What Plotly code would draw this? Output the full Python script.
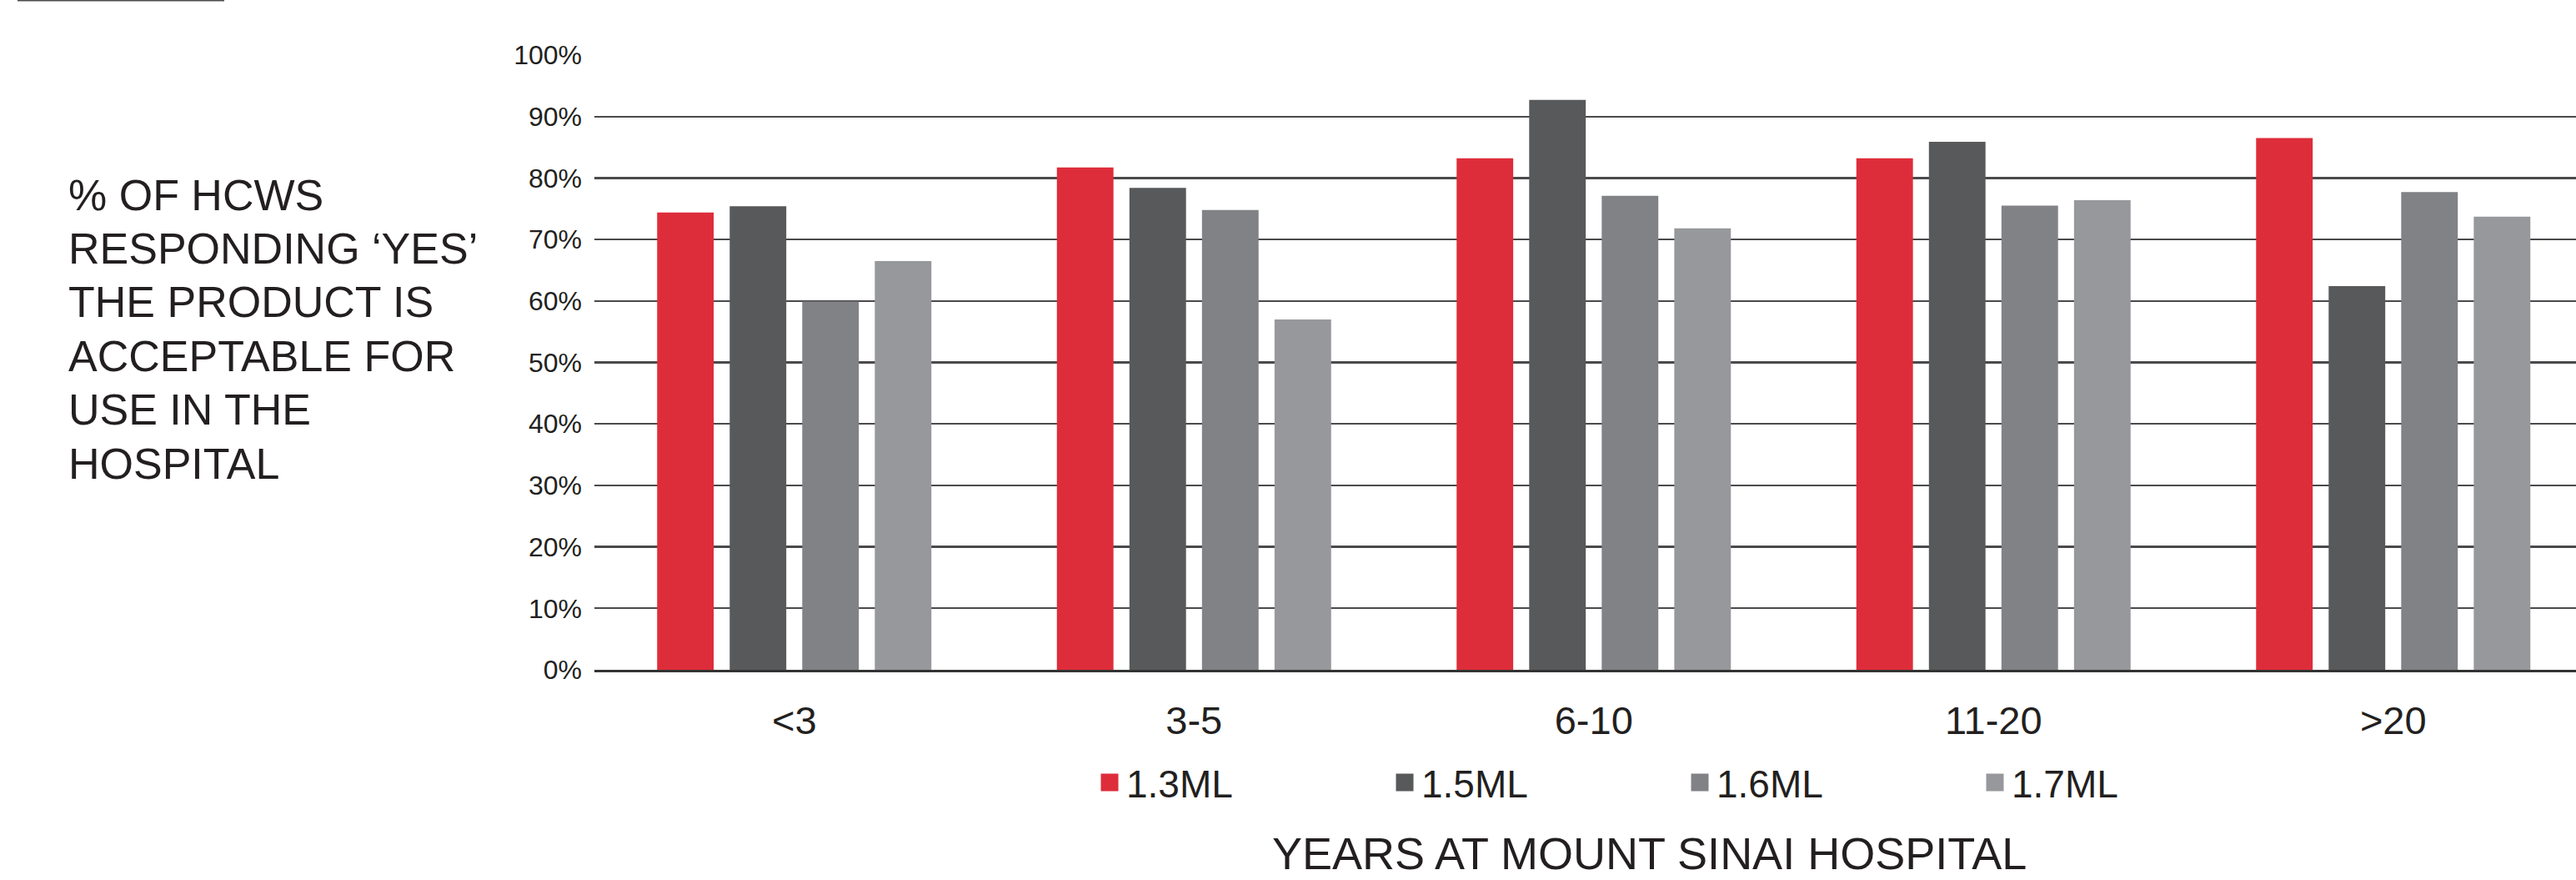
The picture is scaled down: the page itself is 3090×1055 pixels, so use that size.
import plotly.graph_objects as go

categories = ["<3", "3-5", "6-10", "11-20", ">20"]
series_names = ["1.3ML", "1.5ML", "1.6ML", "1.7ML"]
v_13ml = [0.744, 0.817, 0.832, 0.832, 0.865]
v_15ml = [0.754, 0.784, 0.927, 0.859, 0.624]
v_16ml = [0.599, 0.748, 0.771, 0.755, 0.777]
v_17ml = [0.665, 0.570, 0.718, 0.764, 0.737]
series_values = [v_13ml, v_15ml, v_16ml, v_17ml]
colors = ["#DE2D3A", "#58595B", "#818286", "#97989B"]
y_tick_vals = [0, 0.1, 0.2, 0.3, 0.4, 0.5, 0.6, 0.7, 0.8, 0.9, 1.0]
y_title_lines = ["% OF HCWS", "RESPONDING ‘YES’", "THE PRODUCT IS",
                 "ACCEPTABLE FOR", "USE IN THE", "HOSPITAL"]
x_title = "YEARS AT MOUNT SINAI HOSPITAL"

FONT = "Liberation Sans, Arial, sans-serif"
TXT = "#231F20"

W, H = 3090, 1055
L, T, B = 713, 66, 252
PH = H - T - B


def px(x):
    return (x - L) / (W - L)


def py(y):
    return (H - B - y) / PH


fig = go.Figure()
for name, vals, col in zip(series_names, series_values, colors):
    fig.add_trace(go.Bar(
        x=categories, y=vals, name=name,
        marker=dict(color=col, line=dict(width=0)),
        hoverinfo="skip", showlegend=False, legendgroup=name,
    ))
# legend entries (larger square swatches than the default bar swatch)
for name, col in zip(series_names, colors):
    fig.add_trace(go.Scatter(
        x=[None], y=[None], name=name, mode="markers",
        marker=dict(symbol="square", size=16, color=col,
                    line=dict(color=col, width=5)),
        hoverinfo="skip", showlegend=True, legendgroup=name,
    ))

unit = 479.5
fig.update_layout(
    width=W, height=H,
    autosize=False,
    margin=dict(l=L, r=0, t=T, b=B, pad=0),
    paper_bgcolor="white", plot_bgcolor="white",
    barmode="group", bargap=0.274, bargroupgap=0.22,
    font=dict(family=FONT, color=TXT),
    xaxis=dict(
        type="category",
        range=[-0.5, -0.5 + (W - L) / unit],
        showgrid=False, zeroline=False,
        showline=True, linecolor="#333333", linewidth=3,
        ticks="", tickfont=dict(size=47, color=TXT, family=FONT),
        ticklabelstandoff=18,
        fixedrange=True,
    ),
    yaxis=dict(
        range=[0, 1],
        tickvals=y_tick_vals,
        tickformat=".0%",
        showgrid=True, gridcolor="#4A4A4C", gridwidth=2.2,
        zeroline=False, showline=False,
        ticks="", tickfont=dict(size=32, color=TXT, family=FONT),
        ticklabelstandoff=14,
        fixedrange=True,
    ),
    legend=dict(
        orientation="h",
        x=px(2019), xanchor="center",
        y=py(938), yanchor="middle",
        font=dict(size=46, color=TXT, family=FONT),
        entrywidth=309, entrywidthmode="pixels",
        bgcolor="rgba(0,0,0,0)",
        traceorder="normal",
    ),
    showlegend=True,
)

for i, line in enumerate(y_title_lines):
    fig.add_annotation(
        text=line, xref="paper", yref="paper",
        x=px(80), y=py(233.5 + 64.4 * i), xanchor="left", yanchor="middle",
        align="left", showarrow=False,
        font=dict(size=52, color=TXT, family=FONT),
    )
fig.add_annotation(
    text=x_title, xref="paper", yref="paper",
    x=px(1978), y=py(1054), xanchor="center", yanchor="bottom",
    showarrow=False, borderpad=0,
    font=dict(size=54, color=TXT, family=FONT),
)
fig.add_shape(
    type="line", xref="paper", yref="paper",
    x0=px(21), x1=px(269), y0=py(0.5), y1=py(0.5),
    line=dict(color="#4D4D4F", width=2),
)

fig.write_html("out.html", config={"displayModeBar": False, "staticPlot": True})
